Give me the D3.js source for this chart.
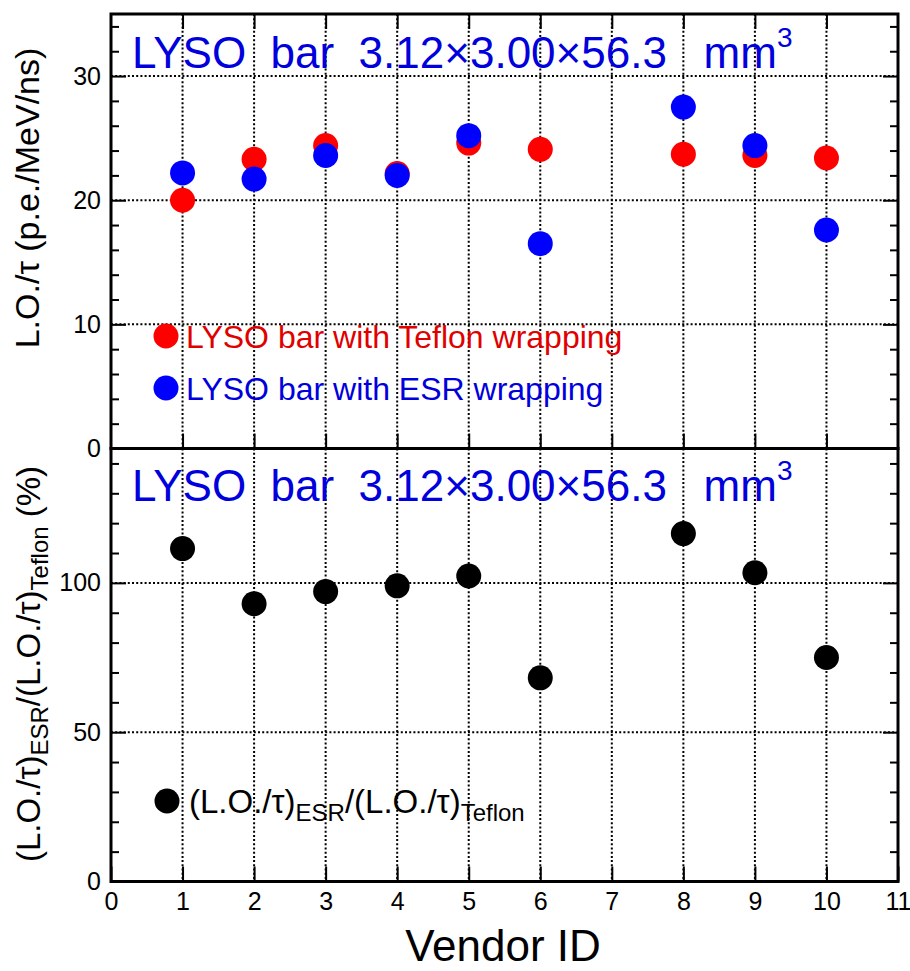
<!DOCTYPE html>
<html>
<head>
<meta charset="utf-8">
<script src="https://cdn.jsdelivr.net/npm/d3@7"></script>
<style>
  body { margin: 0; background: #fff; }
  svg text { font-family: 'Liberation Sans', Arial, sans-serif; white-space: pre; }
</style>
</head>
<body>
<div id="chart"></div>
<script>
// values
var vendors = [1, 2, 3, 4, 5, 6, 8, 9, 10];
var teflon = [20.0, 23.3, 24.4, 22.15, 24.6, 24.1, 23.7, 23.6, 23.4];
var esr = [22.2, 21.7, 23.6, 22.0, 25.2, 16.5, 27.5, 24.4, 17.6];
var ratio = [111.5, 93.0, 97.1, 99.0, 102.3, 68.2, 116.5, 103.4, 75.0];

var xTicks = [0, 1, 2, 3, 4, 5, 6, 7, 8, 9, 10, 11];
var xGrid = [1, 2, 3, 4, 5, 6, 7, 8, 9, 10];
var topMajor = [0, 10, 20, 30];
var topMinor = [2, 4, 6, 8, 12, 14, 16, 18, 22, 24, 26, 28, 32, 34];
var topGrid = [10, 20, 30];
var botMajor = [0, 50, 100];
var botMinor = [10, 20, 30, 40, 60, 70, 80, 90, 110, 120, 130, 140];
var botGrid = [50, 100];

var W = 910, H = 971;
var left = 111, right = 898;
var svg = d3.select('#chart').append('svg').attr('width', W).attr('height', H);

var x = d3.scaleLinear().domain([0, 11]).range([left, right]);
var yTop = d3.scaleLinear().domain([0, 35]).range([448.5, 14]);
var yBot = d3.scaleLinear().domain([0, 145]).range([881.5, 448.5]);

function styleAxis(g) {
  g.select('.domain').remove();
  g.selectAll('line').attr('stroke', '#000').attr('stroke-width', 2);
  g.selectAll('text').attr('font-size', 25).attr('fill', '#000')
    .attr('font-family', "'Liberation Sans', Arial, sans-serif");
}

function drawPanel(y, major, minor, grid, opts) {
  var top = y.range()[1], bottom = y.range()[0];
  var g = svg.append('g');

  // dotted grid
  g.selectAll('.gx').data(xGrid).join('line')
    .attr('x1', function (d) { return x(d); }).attr('x2', function (d) { return x(d); })
    .attr('y1', top).attr('y2', bottom)
    .attr('stroke', '#000').attr('stroke-width', 2).attr('stroke-dasharray', '2,2.2');
  g.selectAll('.gy').data(grid).join('line')
    .attr('x1', left).attr('x2', right)
    .attr('y1', function (d) { return y(d); }).attr('y2', function (d) { return y(d); })
    .attr('stroke', '#000').attr('stroke-width', 2).attr('stroke-dasharray', '2,2.2');

  // left ticks + labels
  g.append('g').attr('transform', 'translate(' + left + ',0)')
    .call(d3.axisLeft(y).tickValues(major).tickSize(-15).tickPadding(10))
    .call(styleAxis);
  g.append('g').attr('transform', 'translate(' + left + ',0)')
    .call(d3.axisLeft(y).tickValues(minor).tickSize(-8).tickFormat(''))
    .call(styleAxis);
  // right ticks
  g.append('g').attr('transform', 'translate(' + right + ',0)')
    .call(d3.axisRight(y).tickValues(major).tickSize(-15).tickFormat(''))
    .call(styleAxis);
  g.append('g').attr('transform', 'translate(' + right + ',0)')
    .call(d3.axisRight(y).tickValues(minor).tickSize(-8).tickFormat(''))
    .call(styleAxis);
  // bottom ticks
  var bx = d3.axisBottom(x).tickValues(opts.labelsX ? xTicks : xGrid).tickSize(-15).tickPadding(11);
  if (!opts.labelsX) bx.tickFormat('');
  g.append('g').attr('transform', 'translate(0,' + bottom + ')').call(bx).call(styleAxis);
  if (opts.topTicks) {
    g.append('g').attr('transform', 'translate(0,' + top + ')')
      .call(d3.axisTop(x).tickValues(xGrid).tickSize(-15).tickFormat(''))
      .call(styleAxis);
  }

  // frame
  g.append('rect').attr('x', left).attr('y', top)
    .attr('width', right - left).attr('height', bottom - top)
    .attr('fill', 'none').attr('stroke', '#000').attr('stroke-width', 3);

  // title
  var t = g.append('text').attr('x', 132).attr('y', top + opts.titleDy)
    .attr('font-size', 44).attr('fill', '#0000dd');
  t.append('tspan').text('LYSO  bar  3.12\u00d73.00\u00d756.3   mm');
  t.append('tspan').attr('font-size', 28).attr('dy', -21).text('3');
  return g;
}

var gTop = drawPanel(yTop, topMajor, topMinor, topGrid, { topTicks: true, labelsX: false, titleDy: 54 });
var gBot = drawPanel(yBot, botMajor, botMinor, botGrid, { topTicks: false, labelsX: true, titleDy: 52 });

// top panel points (red first, blue on top)
gTop.selectAll('.tef').data(vendors).join('circle')
  .attr('cx', function (d) { return x(d); })
  .attr('cy', function (d, i) { return yTop(teflon[i]); })
  .attr('r', 12.5).attr('fill', '#ff0000');
gTop.selectAll('.esr').data(vendors).join('circle')
  .attr('cx', function (d) { return x(d); })
  .attr('cy', function (d, i) { return yTop(esr[i]); })
  .attr('r', 12.5).attr('fill', '#0000ff');

gBot.selectAll('.rat').data(vendors).join('circle')
  .attr('cx', function (d) { return x(d); })
  .attr('cy', function (d, i) { return yBot(ratio[i]); })
  .attr('r', 12.5).attr('fill', '#000');

// legends
var legend = [
  { cy: 336, ty: 348, color: '#ff0000', tcolor: '#e00000', label: 'LYSO bar with Teflon wrapping' },
  { cy: 388, ty: 400, color: '#0000ff', tcolor: '#0000dd', label: 'LYSO bar with ESR wrapping' }
];
legend.forEach(function (l) {
  svg.append('circle').attr('cx', 166).attr('cy', l.cy).attr('r', 12.5).attr('fill', l.color);
  svg.append('text').attr('x', 186).attr('y', l.ty).attr('font-size', 32)
    .attr('fill', l.tcolor).text(l.label);
});

svg.append('circle').attr('cx', 167).attr('cy', 801).attr('r', 12.5).attr('fill', '#000');
var lt = svg.append('text').attr('x', 189).attr('y', 813).attr('font-size', 33).attr('fill', '#000');
lt.append('tspan').text('(L.O./\u03c4)');
lt.append('tspan').attr('font-size', 24).attr('dy', 8).text('ESR');
lt.append('tspan').attr('dy', -8).text('/(L.O./\u03c4)');
lt.append('tspan').attr('font-size', 24).attr('dy', 8).text('Teflon');

// axis titles
svg.append('text')
  .attr('transform', 'translate(39,198) rotate(-90)')
  .attr('text-anchor', 'middle').attr('font-size', 34).attr('fill', '#000')
  .text('L.O./\u03c4 (p.e./MeV/ns)');

var yl = svg.append('text')
  .attr('transform', 'translate(40,664) rotate(-90)')
  .attr('text-anchor', 'middle').attr('font-size', 33).attr('fill', '#000');
yl.append('tspan').text('(L.O./\u03c4)');
yl.append('tspan').attr('font-size', 24).attr('dy', 8).text('ESR');
yl.append('tspan').attr('dy', -8).text('/(L.O./\u03c4)');
yl.append('tspan').attr('font-size', 24).attr('dy', 8).text('Teflon');
yl.append('tspan').attr('dy', -8).text(' (%)');

svg.append('text').attr('x', 503).attr('y', 961).attr('text-anchor', 'middle')
  .attr('font-size', 44).attr('fill', '#000').text('Vendor ID');
</script>
</body>
</html>
